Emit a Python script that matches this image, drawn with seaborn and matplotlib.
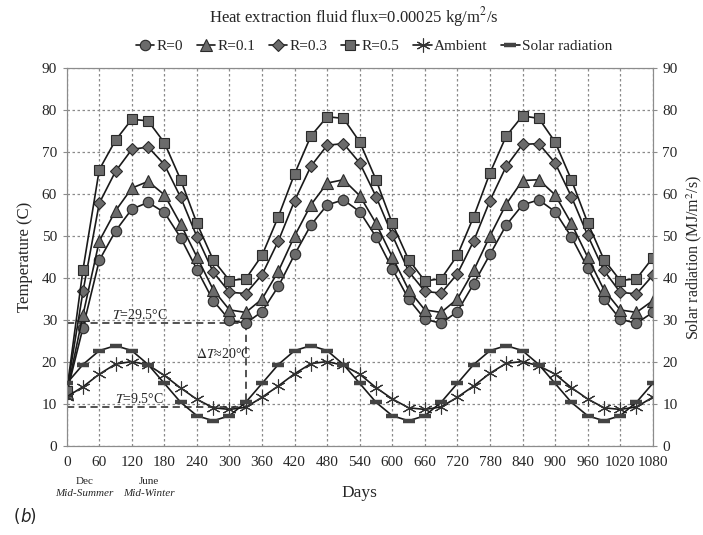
import pandas as pd
import matplotlib
matplotlib.use("Agg")
import matplotlib.pyplot as plt
import seaborn as sns

# Data (every 30 days)
days = [0, 30, 60, 90, 120, 150, 180, 210, 240, 270, 300, 330,
        360, 390, 420, 450, 480, 510, 540, 570, 600, 630, 660, 690,
        720, 750, 780, 810, 840, 870, 900, 930, 960, 990, 1020, 1050, 1080]

r_00 = [12.5, 28.2, 44.2, 51.2, 56.4, 58.0, 55.6, 49.6, 42.0, 34.6, 30.0, 29.2,
        32.0, 38.0, 45.6, 52.6, 57.4, 58.6, 55.8, 49.8, 42.2, 35.0, 30.2, 29.2,
        32.0, 38.6, 45.6, 52.6, 57.4, 58.6, 55.8, 49.8, 42.4, 35.0, 30.2, 29.2, 31.8]
r_01 = [12.5, 31.2, 48.8, 56.0, 61.4, 63.0, 59.8, 52.8, 45.0, 37.2, 32.4, 31.8,
        35.0, 41.6, 50.0, 57.4, 62.6, 63.4, 59.6, 53.0, 45.0, 37.2, 32.4, 31.8,
        35.0, 41.8, 50.0, 57.6, 63.2, 63.4, 59.8, 53.0, 45.0, 37.2, 32.4, 31.8, 34.6]
r_03 = [12.8, 36.8, 57.8, 65.4, 70.6, 71.2, 67.0, 59.2, 49.8, 41.4, 36.6, 36.3,
        40.8, 48.8, 58.4, 66.6, 71.6, 72.0, 67.4, 59.4, 50.2, 41.6, 36.8, 36.4,
        41.0, 48.8, 58.4, 66.6, 71.8, 72.0, 67.4, 59.4, 50.2, 41.8, 36.6, 36.2, 40.6]
r_05 = [13.0, 42.0, 65.8, 72.8, 77.8, 77.4, 72.2, 63.4, 53.0, 44.3, 39.4, 39.8,
        45.4, 54.6, 64.8, 73.8, 78.4, 78.0, 72.4, 63.4, 53.0, 44.4, 39.3, 39.8,
        45.4, 54.6, 65.0, 73.8, 78.6, 78.0, 72.4, 63.4, 53.2, 44.4, 39.4, 39.8, 44.8]
ambient = [11.7, 14.1, 17.1, 19.5, 20.1, 19.3, 16.8, 13.8, 11.1, 9.1, 8.7, 9.2,
           11.6, 14.3, 17.2, 19.6, 20.1, 19.2, 17.1, 13.9, 11.2, 9.1, 8.7, 9.3,
           11.6, 14.3, 17.3, 19.7, 20.1, 19.1, 17.1, 13.9, 11.2, 9.1, 8.7, 9.3, 11.6]
solar = [14.9, 19.4, 22.7, 23.9, 22.7, 19.4, 14.9, 10.4, 7.2, 6.0, 7.2, 10.4,
         14.9, 19.4, 22.7, 23.9, 22.7, 19.4, 14.9, 10.4, 7.2, 6.0, 7.2, 10.4,
         14.9, 19.4, 22.7, 23.9, 22.7, 19.4, 14.9, 10.4, 7.2, 6.0, 7.2, 10.4, 14.9]

x_ticks = list(range(0, 1081, 60))
y_ticks = list(range(0, 91, 10))

sns.set_style("white")
plt.rcParams['font.family'] = ['Liberation Serif', 'DejaVu Serif']
plt.rcParams['mathtext.fontset'] = 'stix'

df = pd.DataFrame({'day': days, 'R=0': r_00, 'R=0.1': r_01, 'R=0.3': r_03,
                   'R=0.5': r_05, 'Ambient': ambient, 'Solar radiation': solar})

fig = plt.figure(figsize=(7.03, 5.35), dpi=100)
ax = fig.add_axes([0.0949, 0.1664, 0.8336, 0.7065])

fill = '#6b6b6b'
edge = '#2a2a2a'
styles = {
    'R=0': dict(marker='o', markersize=7.5),
    'R=0.1': dict(marker='^', markersize=8),
    'R=0.3': dict(marker='D', markersize=6.5),
    'R=0.5': dict(marker='s', markersize=7.5),
}
for name, st in styles.items():
    sns.lineplot(data=df, x='day', y=name, ax=ax, color='#1a1a1a', lw=1.2,
                 markerfacecolor=fill, markeredgecolor=edge, markeredgewidth=0.8,
                 label=name, zorder=3, **st)

sns.lineplot(data=df, x='day', y='Ambient', ax=ax, color='#1a1a1a', lw=1.2,
             marker=(6, 2, 0), markersize=10, markeredgewidth=0.8,
             markeredgecolor='#333333', label='Ambient', zorder=3)

ax2 = ax.twinx()
sns.lineplot(data=df, x='day', y='Solar radiation', ax=ax2, color='#1a1a1a', lw=1.2,
             marker='_', markersize=8, markeredgewidth=3.2,
             markeredgecolor='#444444', label='Solar radiation', zorder=3)

# annotation lines
dash = dict(color='#444444', lw=1.3, ls=(0, (4, 2.5)), zorder=2)
ax.plot([0, 330], [29.2, 29.2], **dash)
ax.plot([330, 330], [29.2, 9.3], **dash)
ax.plot([0, 330], [9.3, 9.3], **dash)
ax.text(83, 31.3, r'$T$=29.5°C', fontsize=10, va='center', ha='left')
ax.text(238, 21.8, r'$\Delta T$≈20°C', fontsize=10, va='center', ha='left')
ax.text(89, 11.2, r'$T$=9.5°C', fontsize=10, va='center', ha='left')

for a in (ax, ax2):
    a.set_xlim(0, 1080)
    a.set_ylim(0, 90)
    a.set_yticks(y_ticks)
    for s in a.spines.values():
        s.set_color('#8c8c8c')
    a.tick_params(axis='both', labelsize=11, length=3, color='#8c8c8c', pad=4)
    a.set_xlabel('')

ax.set_xticks(x_ticks)
ax.grid(True, color='#8a8a8a', ls=(0, (2, 2)), lw=0.9)
ax.set_ylabel('Temperature (C)', fontsize=12, labelpad=6)
ax2.set_ylabel('Solar radiation (MJ/m$^2$/s)', fontsize=11.5, labelpad=5)
ax.set_xlabel('Days', fontsize=12.5, labelpad=12)

# combine legends above the plot
h1, l1 = ax.get_legend_handles_labels()
h2, l2 = ax2.get_legend_handles_labels()
if ax.legend_:
    ax.legend_.remove()
if ax2.legend_:
    ax2.legend_.remove()
fig.legend(h1 + h2, l1 + l2, loc='center', bbox_to_anchor=(0.532, 0.913), ncol=6,
           frameon=False, fontsize=11, handlelength=1.2, handletextpad=0.15,
           columnspacing=0.9)

fig.text(0.503, 0.968, 'Heat extraction fluid flux=0.00025 kg/m$^2$/s',
         ha='center', va='center', fontsize=12)

fig.text(0.12, 0.100, 'Dec', ha='center', va='center', fontsize=8)
fig.text(0.12, 0.077, 'Mid-Summer', ha='center', va='center', fontsize=8, style='italic')
fig.text(0.212, 0.100, 'June', ha='center', va='center', fontsize=8)
fig.text(0.212, 0.077, 'Mid-Winter', ha='center', va='center', fontsize=8, style='italic')

fig.text(0.02, 0.033, '(', ha='left', va='center', fontsize=12, family='DejaVu Sans')
fig.text(0.029, 0.033, 'b', ha='left', va='center', fontsize=12, family='DejaVu Sans', style='italic')
fig.text(0.042, 0.033, ')', ha='left', va='center', fontsize=12, family='DejaVu Sans')

fig.savefig('out.png', dpi=100)
